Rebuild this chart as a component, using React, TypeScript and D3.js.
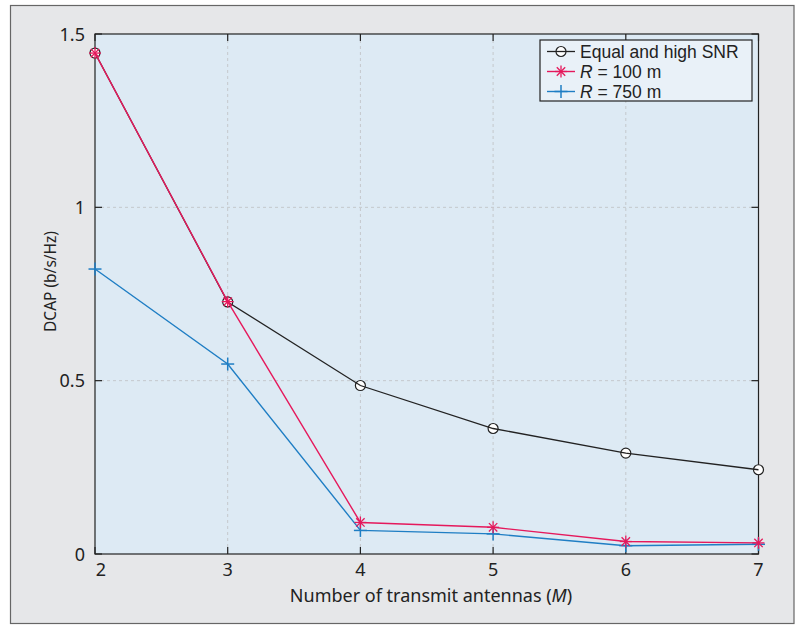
import React from "react";
import * as d3 from "d3";

const xValues = [2, 3, 4, 5, 6, 7];
const equalSNR = [1.445, 0.727, 0.486, 0.362, 0.291, 0.243];
const r100 = [1.445, 0.728, 0.091, 0.077, 0.036, 0.032];
const r750 = [0.822, 0.548, 0.068, 0.058, 0.024, 0.028];
const xTicks = [2, 3, 4, 5, 6, 7];
const yTicks = [0, 0.5, 1, 1.5];
const yTickLabels = ["0", "0.5", "1", "1.5"];
const legendLabels = ["Equal and high SNR", "R", "R"];

const W = 808, H = 625;
const L = 95, R = 758.5, T = 34, B = 554;
const FONT = "'Noto Sans', 'Open Sans', sans-serif";
const LEG_FONT = "'Liberation Sans', Arial, sans-serif";
const RED = "#e5195c";
const BLUE = "#1f7ec4";
const BLACK = "#222";

export default function App() {
  const x = d3.scaleLinear().domain([2, 7]).range([L, R]);
  const y = d3.scaleLinear().domain([0, 1.5]).range([B, T]);
  const line = d3.line<number>().x((_, i) => x(xValues[i])).y((d) => y(d));

  const circle = (cx: number, cy: number, k: string) => (
    <circle key={k} cx={cx} cy={cy} r={5} fill="#fff" stroke={BLACK} strokeWidth={1.2} />
  );
  const star = (cx: number, cy: number, k: string, s = 6) => (
    <g key={k} stroke={RED} strokeWidth={1.3}>
      <line x1={cx - s} y1={cy} x2={cx + s} y2={cy} />
      <line x1={cx} y1={cy - s} x2={cx} y2={cy + s} />
      <line x1={cx - s * 0.7} y1={cy - s * 0.7} x2={cx + s * 0.7} y2={cy + s * 0.7} />
      <line x1={cx - s * 0.7} y1={cy + s * 0.7} x2={cx + s * 0.7} y2={cy - s * 0.7} />
    </g>
  );
  const plus = (cx: number, cy: number, k: string, s = 6.5) => (
    <g key={k} stroke={BLUE} strokeWidth={1.5}>
      <line x1={cx - s} y1={cy} x2={cx + s} y2={cy} />
      <line x1={cx} y1={cy - s} x2={cx} y2={cy + s} />
    </g>
  );

  const legX = 540, legY = 40, legW = 212, legH = 61;
  const rows = [51.5, 71.5, 91.5];

  return (
    <svg width={W} height={H} style={{ position: "absolute", left: 0, top: 0 }} fontFamily={FONT}>
      <rect x={0} y={0} width={W} height={H} fill="#fff" />
      <rect x={10.5} y={5.5} width={783.5} height={618} fill="#e6e7e9" stroke="#666" strokeWidth={1.2} />
      <rect x={L} y={T} width={R - L} height={B - T} fill="#ddeaf4" />
      {/* grid */}
      {xTicks.slice(1, -1).map((t) => (
        <line key={"gx" + t} x1={x(t)} x2={x(t)} y1={T} y2={B} stroke="#c4c8cc" strokeDasharray="3,3" strokeWidth={1} />
      ))}
      {yTicks.slice(1, -1).map((t) => (
        <line key={"gy" + t} x1={L} x2={R} y1={y(t)} y2={y(t)} stroke="#c4c8cc" strokeDasharray="3,3" strokeWidth={1} />
      ))}
      {/* ticks */}
      {xTicks.map((t) => (
        <g key={"tx" + t} stroke={BLACK} strokeWidth={1.2}>
          <line x1={x(t)} x2={x(t)} y1={B} y2={B - 7} />
          <line x1={x(t)} x2={x(t)} y1={T} y2={T + 7} />
        </g>
      ))}
      {yTicks.map((t) => (
        <g key={"ty" + t} stroke={BLACK} strokeWidth={1.2}>
          <line x1={L} x2={L + 7} y1={y(t)} y2={y(t)} />
          <line x1={R} x2={R - 7} y1={y(t)} y2={y(t)} />
        </g>
      ))}
      <rect x={L} y={T} width={R - L} height={B - T} fill="none" stroke={BLACK} strokeWidth={1.2} />
      {/* tick labels */}
      {xTicks.map((t, i) => (
        <text key={"lx" + t} x={x(t) + (i === 0 ? 6 : 0)} y={B + 22} textAnchor="middle" fontSize={18} fill={BLACK}>{t}</text>
      ))}
      {yTicks.map((t, i) => (
        <text key={"ly" + t} x={L - 10} y={y(t) + 6.5} textAnchor="end" fontSize={18} fill={BLACK}>{yTickLabels[i]}</text>
      ))}
      <text x={431} y={602} textAnchor="middle" fontSize={18} fill={BLACK}>
        Number of transmit antennas (<tspan fontStyle="italic">M</tspan>)
      </text>
      <text transform={`translate(56,281.5) rotate(-90)`} textAnchor="middle" fontSize={15.5} fill={BLACK}>
        DCAP (b/s/Hz)
      </text>
      {/* lines and markers */}
      {equalSNR.map((v, i) => circle(x(xValues[i]), y(v), "c" + i))}
      <path d={line(equalSNR) || ""} fill="none" stroke={BLACK} strokeWidth={1.3} />
      <path d={line(r750) || ""} fill="none" stroke={BLUE} strokeWidth={1.4} />
      <path d={line(r100) || ""} fill="none" stroke={RED} strokeWidth={1.4} />
      {r750.map((v, i) => plus(x(xValues[i]), y(v), "p" + i))}
      {r100.map((v, i) => star(x(xValues[i]), y(v), "s" + i))}
      {/* legend */}
      <rect x={legX} y={legY} width={legW} height={legH} fill="#e9f1f8" stroke={BLACK} strokeWidth={1.2} />
      {circle(561, rows[0], "lc")}
      <line x1={547} x2={575} y1={rows[0]} y2={rows[0]} stroke={BLACK} strokeWidth={1.3} />
      <line x1={547} x2={575} y1={rows[1]} y2={rows[1]} stroke={RED} strokeWidth={1.4} />
      {star(561, rows[1], "ls")}
      <line x1={547} x2={575} y1={rows[2]} y2={rows[2]} stroke={BLUE} strokeWidth={1.4} />
      {plus(561, rows[2], "lp")}
      <g fontFamily={LEG_FONT} fontSize={17.5} fill={BLACK}>
        <text x={580} y={rows[0] + 6}>{legendLabels[0]}</text>
        <text x={580} y={rows[1] + 6}>
          <tspan fontStyle="italic">{legendLabels[1]}</tspan> = 100 m
        </text>
        <text x={580} y={rows[2] + 6}>
          <tspan fontStyle="italic">{legendLabels[2]}</tspan> = 750 m
        </text>
      </g>
    </svg>
  );
}
